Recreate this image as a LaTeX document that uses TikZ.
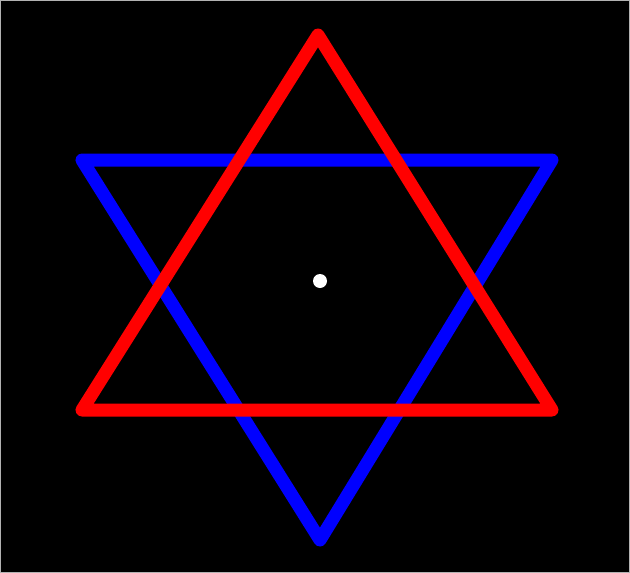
\documentclass[tikz,border=0pt]{standalone}
\begin{document}
\begin{tikzpicture}[x=1pt,y=-1pt,
  tri/.style={line width=13pt,line join=round,line cap=round}]
\fill[black] (0,0) rectangle (630,573);
\draw[gray!60,line width=1pt] (0.5,0.5) rectangle (629.5,572.5);
\coordinate (b1) at (82,160);
\coordinate (b2) at (552,160);
\coordinate (b3) at (320,540);
\coordinate (r1) at (318,35);
\coordinate (r2) at (82,410);
\coordinate (r3) at (552,410);
\draw[tri,draw={rgb,255:red,0;green,0;blue,255}] (b1) -- (b2) -- (b3) -- cycle;
\draw[tri,draw={rgb,255:red,255;green,0;blue,0}] (r1) -- (r2) -- (r3) -- cycle;
\node[circle,fill=white,inner sep=0pt,minimum size=14pt] (c) at (320,281) {};
\end{tikzpicture}
\end{document}
